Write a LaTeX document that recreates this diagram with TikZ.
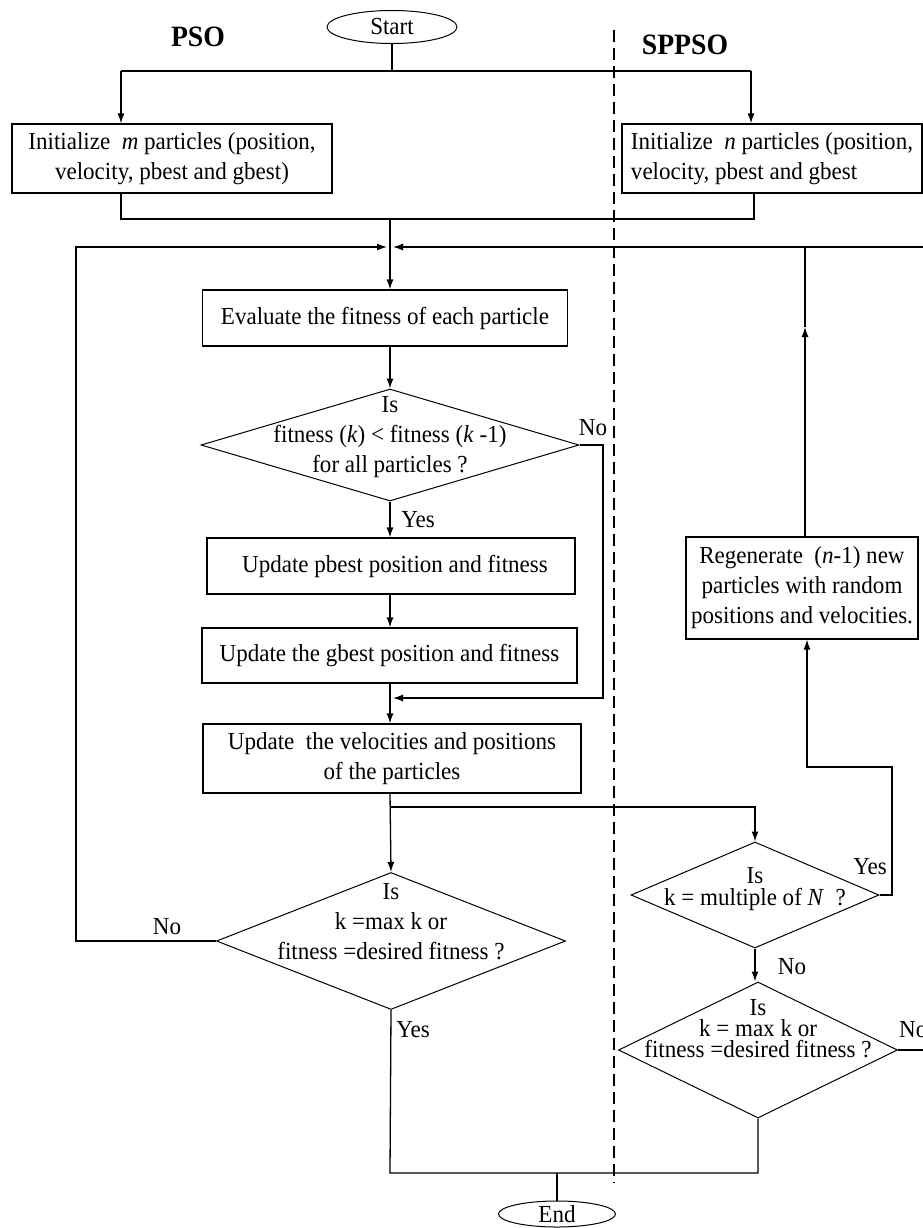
\documentclass[tikz,border=0pt]{standalone}
\usepackage{fontspec}
\setmainfont[FakeStretch=0.94]{Liberation Serif}
\usetikzlibrary{shapes.geometric,arrows.meta,calc}
\begin{document}
\begin{tikzpicture}[x=1pt,y=-1pt,
  every node/.style={font=\fontsize{24.5}{30}\selectfont},
  box/.style={draw,line width=1.2pt,inner sep=0pt,align=center},
  dia/.style={draw,diamond,line width=1pt,inner sep=0pt},
  term/.style={draw,ellipse,line width=1pt,inner sep=0pt},
  ln/.style={line width=1.3pt},
  arr/.style={line width=1.3pt,-{Latex[length=10pt,width=7pt]}},
  lbl/.style={inner sep=0pt},
  head/.style={font=\fontsize{29.5}{30}\selectfont\bfseries,inner sep=0pt},
  divider/.style={line width=2.2pt,dash pattern=on 12pt off 6pt}
]
\useasboundingbox (0,0) rectangle (923,1228);
\clip (0,0) rectangle (923,1228);
\fill[white] (0,0) rectangle (923,1228);

% nodes
\node[term,minimum width=130pt,minimum height=33pt] (start) at (392,27) {Start};
\node[head] (pso) at (198,37) {PSO};
\node[head] (sppso) at (685,45) {SPPSO};
\node[box,minimum width=320pt,minimum height=69pt] (initm) at (172,158.5) {Initialize \ \textit{m} particles (position,\\velocity, pbest and gbest)};
\node[box,minimum width=300pt,minimum height=69pt,align=left] (initn) at (772,158.5) {Initialize \ \textit{n} particles (position,\\velocity, pbest and gbest};
\node[box,minimum width=365pt,minimum height=56pt] (eval) at (385,318) {Evaluate the fitness of each particle};
\node[dia,minimum width=378pt,minimum height=112pt] (d1) at (390,445) {};
\node[lbl,align=center] (d1t) at (390,437) {Is\\fitness (\textit{k}) < fitness (\textit{k} -1)\\for all particles ?};
\node[box,minimum width=368pt,minimum height=56pt] (pbest) at (391,566) {\hspace{8pt}Update pbest position and fitness};
\node[box,minimum width=375pt,minimum height=55pt] (gbest) at (389.5,655.5) {Update the gbest position and fitness};
\node[box,minimum width=378pt,minimum height=69pt] (vel) at (392,758.5) {Update \ the velocities and positions\\of the particles};
\node[dia,minimum width=349pt,minimum height=137pt] (d2) at (391,941) {};
\node[lbl,align=center] (d2t) at (391,922) {Is\\k =max k or\\fitness =desired fitness ?};
\node[dia,minimum width=248pt,minimum height=106pt] (dn) at (755,895) {};
\node[lbl,align=center,font=\fontsize{24.5}{22}\selectfont] (dnt) at (755,889) {Is\\k = multiple of \textit{N} \ ?};
\node[dia,minimum width=279pt,minimum height=136pt] (d3) at (758,1050) {};
\node[lbl,align=center,font=\fontsize{24.5}{21}\selectfont] (d3t) at (758,1029) {Is\\k = max k or\\fitness =desired fitness ?};
\node[box,minimum width=232pt,minimum height=102pt] (regen) at (802,588) {Regenerate \ (\textit{n}-1) new\\particles with random\\positions and velocities.};
\node[term,minimum width=117pt,minimum height=26pt] (end) at (557,1214) {End};

% labels
\node[lbl] (yes1) at (418,520) {Yes};
\node[lbl] (no1) at (593,428) {No};
\node[lbl] (no2) at (167,927) {No};
\node[lbl] (yes2) at (413,1030) {Yes};
\node[lbl] (yes3) at (870,867) {Yes};
\node[lbl] (no3) at (792,967) {No};
\node[lbl,anchor=west] (no4) at (899,1030) {No};

% coordinates
\coordinate (c0) at (392,71);
\coordinate (cl) at (121,71);
\coordinate (cr) at (751,71);
\coordinate (ml) at (121,219);
\coordinate (mr) at (754,219);
\coordinate (mc) at (390,219);
\coordinate (jl) at (387,247);
\coordinate (jr) at (393,247);
\coordinate (lx) at (76,247);
\coordinate (rx) at (923,247);
\coordinate (rv) at (805,247);
\coordinate (ra) at (805,327);
\coordinate (nx) at (603,698);
\coordinate (nj) at (393,698);
\coordinate (bj) at (390,807);
\coordinate (bn) at (755,807);
\coordinate (yx) at (892,767);
\coordinate (rb) at (807,767);
\coordinate (ey) at (390,1173);
\coordinate (ej) at (557,1173);
\coordinate (dt) at (614,30);
\coordinate (db) at (614,1183);

% divider
\draw[divider] (dt) -- (db);

% connectors
\draw[ln] (start.south) -- (c0);
\draw[ln] (cl) -- (cr);
\draw[arr] (cl) -- (cl |- initm.north);
\draw[arr] (cr) -- (cr |- initn.north);
\draw[ln] (ml |- initm.south) -- (ml) -- (mr) -- (mr |- initn.south);
\draw[arr] (mc) -- (mc |- eval.north);
\draw[arr] (d2.west) -- (d2.west -| lx) -- (lx) -- (jl);
\draw[arr] (rx) -- (jr);
\draw[arr] (regen.north -| ra) -- (ra);
\draw[ln] (ra) -- (rv);
\draw[arr] (mc |- eval.south) -- (d1.north);
\draw[arr] (d1.south) -- (pbest.north -| d1.south);
\draw[arr] (d1.east) -- (d1.east -| nx) -- (nx) -- (nj);
\draw[arr] (pbest.south -| mc) -- (gbest.north -| mc);
\draw[arr] (gbest.south -| mc) -- (vel.north -| mc);
\draw[arr] (vel.south -| mc) -- (d2.north);
\draw[arr] (bj) -- (bn) -- (bn |- dn.north);
\draw[arr] (dn.south) -- (dn.south |- d3.north);
\draw[arr] (dn.east) -- (dn.east -| yx) -- (yx) -- (rb) -- (rb |- regen.south);
\draw[ln] (d2.south) -- (ey) -- (ey -| d3.south) -- (d3.south);
\draw[ln] (ej) -- (end.north);
\draw[ln] (d3.east) -- (d3.east -| rx);
\end{tikzpicture}
\end{document}
